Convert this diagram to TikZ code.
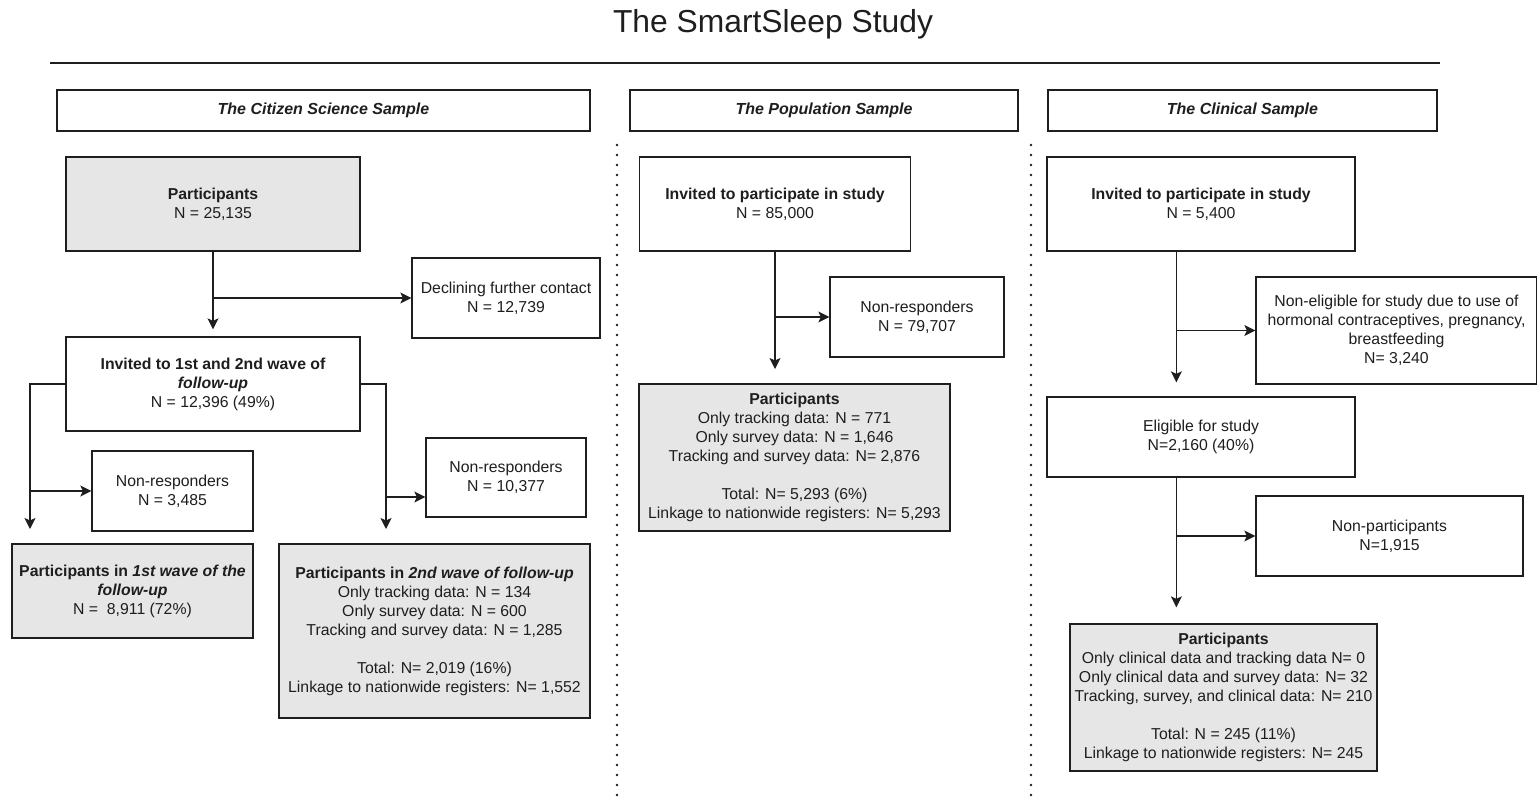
\documentclass[tikz,border=0pt]{standalone}
\usepackage{fontspec}
\setmainfont{Liberation Sans}
\usetikzlibrary{arrows.meta,calc}
\definecolor{boxgray}{RGB}{230,230,230}
\definecolor{inkc}{RGB}{30,30,30}
\begin{document}
\begin{tikzpicture}[x=1pt,y=-1pt,
  box/.style={draw=inkc, line width=1.3pt, fill=white, inner sep=2pt, align=center,
    font=\fontsize{15.8}{19}\selectfont, text=inkc},
  gbox/.style={box, fill=boxgray},
  hbox/.style={box, font=\fontsize{16}{19}\selectfont\bfseries\itshape},
  arr/.style={draw=inkc, line width=1.3pt, -{Stealth[length=11pt,width=11pt,inset=2.5pt]}},
  sep/.style={draw=inkc, line width=2.6pt, line cap=round, dash pattern=on 0pt off 10pt}
]
\useasboundingbox (0,0) rectangle (1537,797);

% title and rule
\node[font=\fontsize{31.8}{36}\selectfont, text=inkc, anchor=base] (title) at (773,33) {The SmartSleep Study};
\coordinate (ruleL) at (50,63);
\coordinate (ruleR) at (1440,63);
\draw[draw=inkc, line width=1.9pt] (ruleL) -- (ruleR);

% separators
\coordinate (s1t) at (617,145); \coordinate (s1b) at (617,797);
\coordinate (s2t) at (1031,145); \coordinate (s2b) at (1031,797);
\draw[sep] (s1t) -- (s1b);
\draw[sep] (s2t) -- (s2b);

% headers
\node[hbox, minimum width=533pt, minimum height=41pt] (hA) at (323.5,110.5) {The Citizen Science Sample};
\node[hbox, minimum width=388pt, minimum height=41pt] (hB) at (824,110.5) {The Population Sample};
\node[hbox, minimum width=389pt, minimum height=41pt] (hC) at (1242.5,110.5) {The Clinical Sample};

% ---------- Citizen science column ----------
\node[gbox, minimum width=294pt, minimum height=94pt] (P1) at (213,204)
  {\textbf{Participants}\\N = 25,135};
\node[box, minimum width=188pt, minimum height=80pt] (D1) at (506,298)
  {Declining further contact\\N = 12,739};
\node[box, minimum width=294pt, minimum height=94pt] (Inv) at (213,384)
  {\textbf{Invited to 1st and 2nd wave of}\\\textbf{\textit{follow-up}}\\N = 12,396 (49\%)};
\node[box, minimum width=161pt, minimum height=80pt] (NR1) at (172.5,491)
  {Non-responders\\N = 3,485};
\node[gbox, minimum width=241pt, minimum height=94pt] (P1st) at (132.5,591)
  {\textbf{Participants in \textit{1st wave of the}}\\\textbf{\textit{follow-up}}\\N =\ \ 8,911 (72\%)};
\node[box, minimum width=160pt, minimum height=79pt] (NR2) at (506,477.5)
  {Non-responders\\N = 10,377};
\node[gbox, minimum width=311pt, minimum height=174pt] (P2nd) at (434.5,631)
  {\textbf{Participants in \textit{2nd wave of follow-up}}\\
   Only tracking data: N = 134\\
   Only survey data: N = 600\\
   Tracking and survey data: N = 1,285\\[19pt]
   Total: N= 2,019 (16\%)\\
   Linkage to nationwide registers: N= 1,552};

\coordinate (b1) at (213,298);
\draw[arr, shorten >=7pt] (P1) -- (Inv);
\draw[arr] (b1) -- (D1.west);

\coordinate (lEnd) at (30,529);
\coordinate (lb) at (30,491);
\draw[arr] (Inv.west) -| (lEnd);
\draw[arr] (lb) -- (NR1.west);

\coordinate (rEnd) at (386,529);
\coordinate (rb) at (386,497);
\draw[arr] (Inv.east) -| (rEnd);
\draw[arr] (rb) -- (rb -| NR2.west);

% ---------- Population column ----------
\node[box, minimum width=271pt, minimum height=94pt] (Inv2) at (775,204)
  {\textbf{Invited to participate in study}\\N = 85,000};
\node[box, minimum width=174pt, minimum height=80pt] (NR3) at (917,317)
  {Non-responders\\N = 79,707};
\node[gbox, minimum width=311pt, minimum height=147pt] (P3) at (794.5,457.5)
  {\textbf{Participants}\\
   Only tracking data: N = 771\\
   Only survey data: N = 1,646\\
   Tracking and survey data: N= 2,876\\[19pt]
   Total: N= 5,293 (6\%)\\
   Linkage to nationwide registers: N= 5,293};

\coordinate (mEnd) at (775,369);
\coordinate (mb) at (775,317);
\draw[arr] (Inv2.south) -- (mEnd);
\draw[arr] (mb) -- (NR3.west);

% ---------- Clinical column ----------
\node[box, minimum width=308pt, minimum height=94pt] (Inv3) at (1201,204)
  {\textbf{Invited to participate in study}\\N = 5,400};
\node[box, minimum width=281pt, minimum height=107pt] (NE) at (1396.5,330.5)
  {Non-eligible for study due to use of\\hormonal contraceptives, pregnancy,\\breastfeeding\\N= 3,240};
\node[box, minimum width=308pt, minimum height=80pt] (Elig) at (1201,437)
  {Eligible for study\\N=2,160 (40\%)};
\node[box, minimum width=267pt, minimum height=80pt] (NP) at (1389.5,536)
  {Non-participants\\N=1,915};
\node[gbox, minimum width=307pt, minimum height=147pt] (P4) at (1223.5,697.5)
  {\textbf{Participants}\\
   Only clinical data and tracking data N= 0\\
   Only clinical data and survey data: N= 32\\
   Tracking, survey, and clinical data: N= 210\\[19pt]
   Total: N = 245 (11\%)\\
   Linkage to nationwide registers: N= 245};

\path (Inv3.south west) ++(130,0) coordinate (cTop);
\path (Elig.south west) ++(130,0) coordinate (cMid);
\coordinate (cb1) at (1177,330.5);
\coordinate (cb2) at (1177,536);
\draw[arr, shorten >=14pt] (cTop) -- (cTop |- Elig.north);
\draw[arr] (cb1) -- (NE.west);
\draw[arr, shorten >=16pt] (cMid) -- (cMid |- P4.north);
\draw[arr] (cb2) -- (NP.west);
\end{tikzpicture}
\end{document}
